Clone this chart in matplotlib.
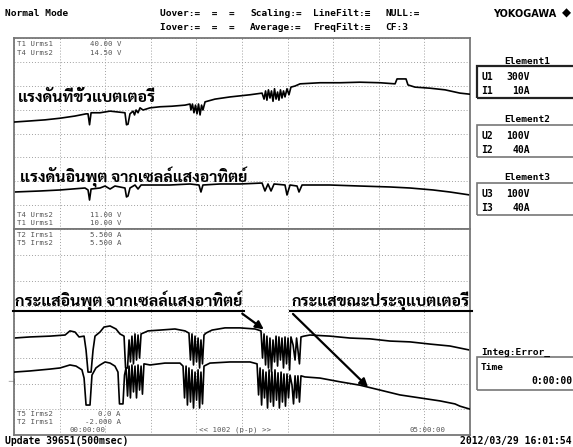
import matplotlib
matplotlib.use("Agg")
import numpy as np
import matplotlib.pyplot as plt
from matplotlib.patches import Rectangle, FancyArrowPatch
from matplotlib.lines import Line2D

W, H = 573, 447
THAI = ['Sarabun', 'Kinnari', 'Loma', 'DejaVu Sans']
MONO = 'DejaVu Sans Mono'

# time axis: minutes from 00:00:00 to 05:00:00
T_SPAN = (0, 300)

# channel scales (bottom, top)
U1_RANGE = (10.0, 40.0)    # T1 Urms1
U2_RANGE = (11.0, 14.5)    # T4 Urms2
I1_RANGE = (-2.0, 5.5)     # T2 Irms1
I2_RANGE = (0.0, 5.5)      # T5 Irms2

# battery terminal voltage (T4 Urms2), V
bat_t = [0, 10.5, 20.4, 30.3, 40.1, 47.4, 48.7, 49.7, 50.7, 56.6, 63.2, 69.7,
         73.0, 74.0, 75.0, 76.3, 78.3, 79.3, 80.3, 81.6, 82.9, 84.9, 89.5, 96.1,
         103.9, 112.5, 115.8, 116.4, 117.4, 118.4, 119.4, 120.4, 121.4, 122.4,
         123.4, 124.3, 125.7, 132.2, 142.1, 155.3, 163.2, 164.5, 165.5, 166.4,
         167.4, 168.4, 169.4, 170.4, 171.4, 172.4, 173.4, 174.3, 175.3, 176.3,
         177.3, 178.3, 179.6, 180.9, 182.2, 184.9, 188.2, 201.3, 214.5, 227.6,
         240.8, 250.7, 252.0, 257.9, 259.2, 263.8, 273.7, 283.6, 293.4, 300]
bat_v = [12.96, 12.98, 13.00, 13.03, 13.07, 13.11, 13.11, 12.91, 13.13, 13.13,
         13.16, 13.14, 13.13, 12.91, 12.92, 13.11, 13.16, 13.09, 13.18, 13.13,
         13.22, 13.18, 13.22, 13.24, 13.25, 13.27, 13.29, 13.18, 13.29, 13.13,
         13.27, 13.11, 13.29, 13.09, 13.27, 13.18, 13.33, 13.38, 13.42, 13.46,
         13.49, 13.38, 13.53, 13.36, 13.55, 13.40, 13.53, 13.34, 13.57, 13.38,
         13.51, 13.36, 13.55, 13.40, 13.53, 13.42, 13.57, 13.46, 13.60, 13.62,
         13.66, 13.68, 13.68, 13.69, 13.68, 13.66, 13.75, 13.75, 13.64, 13.60,
         13.58, 13.55, 13.49, 13.47]

# solar cell input voltage (T1 Urms1), V
pv_t = [0, 17.1, 30.3, 46.7, 48.7, 49.7, 50.7, 56.6, 59.9, 63.2, 66.4, 69.7,
        73.0, 74.0, 75.0, 76.3, 79.6, 81.6, 83.6, 89.5, 102.6, 115.8, 121.7,
        123.0, 124.3, 135.5, 148.7, 163.2, 165.1, 167.1, 169.1, 171.1, 178.3,
        179.6, 181.6, 186.2, 187.5, 189.5, 207.9, 227.6, 247.4, 260.5, 275.7,
        286.8, 300]
pv_v = [15.81, 15.97, 16.13, 16.44, 16.13, 14.55, 16.28, 16.44, 16.75, 16.28,
        16.75, 16.60, 16.44, 15.03, 15.18, 16.44, 16.91, 16.28, 16.91, 16.91,
        16.91, 17.07, 16.91, 15.81, 16.91, 17.07, 17.07, 17.22, 15.97, 17.07,
        15.97, 17.07, 16.91, 15.34, 16.91, 16.75, 15.81, 16.91, 16.91, 16.75,
        16.60, 16.44, 16.13, 15.81, 15.34]

# solar cell input current (T2 Irms1), A
pvi_t = [0, 10.5, 23.7, 33.6, 36.8, 40.1, 42.8, 46.1, 47.4, 48.7, 50.7, 52.0,
         53.3, 56.6, 59.2, 63.2, 67.1, 69.7, 72.4, 73.4, 74.7, 75.7, 76.6, 77.6,
         78.6, 79.6, 80.6, 81.6, 82.6, 83.6, 84.9, 88.2, 96.1, 105.9, 112.5,
         115.1, 116.1, 117.1, 118.1, 119.1, 120.1, 121.1, 122.1, 123.0, 124.0,
         125.0, 126.3, 130.3, 138.8, 148.7, 158.6, 162.5, 163.5, 164.5, 165.5,
         166.4, 167.4, 168.4, 169.4, 170.4, 171.4, 172.4, 173.4, 174.3, 175.3,
         176.3, 177.3, 178.3, 179.3, 180.3, 181.3, 182.2, 183.6, 184.9, 185.9,
         186.8, 187.8, 188.8, 190.8, 194.7, 207.9, 221.1, 234.2, 247.4, 260.5,
         273.7, 286.8, 300]
pvi_a = [1.53, 1.57, 1.60, 1.64, 1.79, 1.75, 1.57, 1.60, 1.09, 0.29, 0.29, 1.09,
         1.60, 1.75, 1.93, 1.97, 1.86, 1.68, 1.60, 0.44, 0.44, 1.46, 0.66, 1.60,
         0.59, 1.68, 0.73, 1.64, 0.80, 1.68, 1.71, 1.79, 1.82, 1.86, 1.79, 1.71,
         0.73, 1.68, 0.55, 1.60, 0.66, 1.53, 0.44, 1.46, 0.59, 1.64, 1.71, 1.82,
         1.90, 1.90, 1.86, 1.79, 0.80, 1.68, 0.55, 1.60, 0.44, 1.53, 0.29, 1.46,
         0.66, 1.60, 0.51, 1.57, 0.73, 1.53, 0.44, 1.57, 0.59, 1.53, 0.37, 1.57,
         1.28, 0.73, 1.53, 1.09, 0.59, 1.57, 1.60, 1.64, 1.60, 1.53, 1.50, 1.42,
         1.39, 1.31, 1.24, 1.09]

# battery charging current (T5 Irms2), A
chg_t = [0, 10.5, 23.7, 30.3, 36.8, 40.8, 44.7, 46.1, 47.4, 50.0, 51.3, 53.9,
         56.6, 59.9, 63.2, 66.4, 68.4, 69.4, 71.7, 72.7, 73.7, 74.7, 75.7, 76.6,
         77.6, 78.6, 79.6, 80.6, 81.6, 82.6, 83.6, 84.5, 85.5, 89.5, 99.3, 109.2,
         111.2, 112.2, 113.2, 114.1, 115.1, 116.1, 117.1, 118.1, 119.1, 120.1,
         121.1, 122.1, 123.0, 124.0, 125.0, 128.9, 142.1, 155.3, 159.9, 160.9,
         161.9, 162.9, 163.8, 164.8, 165.8, 166.8, 167.8, 168.8, 169.7, 170.7,
         171.7, 172.7, 173.7, 174.6, 175.7, 176.6, 177.6, 178.6, 179.6, 180.6,
         181.6, 182.9, 183.9, 184.9, 185.9, 186.8, 187.8, 188.8, 191.4, 201.3,
         214.5, 227.6, 240.8, 253.9, 267.1, 280.3, 290.1, 293.4, 300]
chg_a = [1.68, 1.71, 1.76, 1.79, 1.87, 1.84, 1.74, 1.52, 0.80, 0.80, 1.60, 1.79,
         1.87, 1.95, 1.92, 1.84, 1.68, 0.83, 0.83, 1.60, 1.79, 1.04, 1.84, 0.99,
         1.87, 1.15, 1.84, 0.99, 1.87, 1.20, 1.84, 1.09, 1.90, 1.87, 1.92, 1.92,
         1.84, 0.99, 1.84, 0.80, 1.79, 0.88, 1.74, 0.72, 1.68, 0.93, 1.74, 0.72,
         1.68, 0.83, 1.84, 1.92, 1.95, 1.95, 1.90, 1.07, 1.79, 0.80, 1.74, 0.99,
         1.68, 0.72, 1.74, 0.88, 1.68, 0.77, 1.74, 0.93, 1.66, 0.72, 1.68, 0.88,
         1.63, 0.77, 1.63, 0.99, 1.60, 1.33, 0.83, 1.58, 0.99, 1.58, 0.88, 1.58,
         1.55, 1.52, 1.42, 1.33, 1.20, 1.07, 0.99, 0.91, 0.83, 0.77, 0.69]

HEADER = [("Normal Mode", None, 5), ("Uover:=  =  =", "Iover:=  =  =", 160),
          ("Scaling:=", "Average:=", 250), ("LineFilt:\u2261", "FreqFilt:\u2261", 313),
          ("NULL:=", "CF:3", 385)]
ELEMENTS = [("Element1", "U1", "300V", "I1", "10A"),
            ("Element2", "U2", "100V", "I2", "40A"),
            ("Element3", "U3", "100V", "I3", "40A")]
CHANNELS = [(44, "T1 Urms1", "40.00 V"), (53, "T4 Urms2", "14.50 V"),
            (215, "T4 Urms2", "11.00 V"), (223, "T1 Urms1", "10.00 V"),
            (235, "T2 Irms1", "5.500 A"), (243, "T5 Irms2", "5.500 A"),
            (414, "T5 Irms2", "0.0 A"), (422, "T2 Irms1", "-2.000 A")]


def px(x, y):
    # screen pixel (from top-left) -> figure fraction
    return x / W, 1 - y / H


def put(fig, x, y, s, **kw):
    kw.setdefault('family', MONO)
    kw.setdefault('va', 'center')
    return fig.text(*px(x, y), s, **kw)


def make_panel(fig, top, bottom, yr1, yr2, nrows):
    l, b = px(14, bottom)
    r, t = px(470, top)
    ax = fig.add_axes([l, b, r - l, t - b])
    ax.set_xlim(*T_SPAN)
    ax.set_ylim(*yr1)
    ax.set_xticks(np.linspace(T_SPAN[0], T_SPAN[1], 11))
    ax.set_yticks(np.linspace(yr1[0], yr1[1], nrows + 1))
    ax.tick_params(length=0, labelbottom=False, labelleft=False)
    ax.grid(True, color='#a0a0a0', lw=0.7, ls=(0, (1, 2)))
    for s in ax.spines.values():
        s.set_color('#777777')
        s.set_linewidth(1.3)
    ax2 = ax.twinx()
    ax2.set_ylim(*yr2)
    ax2.set_yticks([])
    for s in ax2.spines.values():
        s.set_visible(False)
    return ax, ax2


def draw_labels(fig):
    for a, b, x in HEADER:
        put(fig, x, 14, a, fontsize=6.8, weight='bold')
        if b:
            put(fig, x, 28, b, fontsize=6.8, weight='bold')
    put(fig, 556, 14, "YOKOGAWA", fontsize=7, weight='bold', ha='right',
        family='DejaVu Sans')
    put(fig, 571, 13, "\u25c6", fontsize=8.5, ha='right', family='DejaVu Sans')

    for y, name, val in CHANNELS:
        put(fig, 17, y, name, fontsize=5.3, color='#555555')
        put(fig, 121, y, val, fontsize=5.3, color='#555555', ha='right')

    put(fig, 88, 430, "00:00:00", fontsize=5.3, color='#555555', ha='center')
    put(fig, 428, 430, "05:00:00", fontsize=5.3, color='#555555', ha='center')
    put(fig, 235, 430, "<< 1002 (p-p) >>", fontsize=5.3, color='#555555', ha='center')
    put(fig, 7, 382, "\u22a3", fontsize=6, color='#555555', family='DejaVu Sans')

    put(fig, 5, 441, "Update 39651(500msec)", fontsize=7, weight='bold')
    put(fig, 572, 441, "2012/03/29 16:01:54", fontsize=7, weight='bold', ha='right')

    # range boxes on the right
    tops = [66, 125, 183]
    for (title, u, uv, i, iv), y0 in zip(ELEMENTS, tops):
        dark = title == "Element1"
        fig.add_artist(Rectangle(px(477, y0 + 32), 110 / W, 32 / H,
                                 fill=False, lw=1.6 if dark else 1.2,
                                 ec='#222222' if dark else '#777777'))
        put(fig, 527, y0 - 5, title, fontsize=6.8, weight='bold', ha='center')
        put(fig, 481, y0 + 11, u, fontsize=7, weight='bold')
        put(fig, 530, y0 + 11, uv, fontsize=7, weight='bold', ha='right')
        put(fig, 481, y0 + 25, i, fontsize=7, weight='bold')
        put(fig, 530, y0 + 25, iv, fontsize=7, weight='bold', ha='right')

    fig.add_artist(Rectangle(px(477, 390), 110 / W, 33 / H, fill=False,
                             lw=1.2, ec='#777777'))
    put(fig, 481, 352, "Integ:Error_", fontsize=6.8, weight='bold')
    put(fig, 481, 367, "Time", fontsize=6.8, weight='bold')
    put(fig, 572, 381, "0:00:00", fontsize=7, weight='bold', ha='right')


def underlined(fig, x, y, s):
    t = put(fig, x, y, s, fontsize=11.5, weight='bold', family=THAI)
    fig.canvas.draw()
    bb = t.get_window_extent()
    fw = fig.dpi * fig.get_figwidth()
    yy = px(0, y + 9)[1]
    fig.add_artist(Line2D([bb.x0 / fw - 0.003, bb.x1 / fw + 0.003], [yy, yy],
                          color='k', lw=1.5))


def main():
    fig = plt.figure(figsize=(W / 100, H / 100), dpi=100)

    ax_u1, ax_u2 = make_panel(fig, 38, 229, U1_RANGE, U2_RANGE, 8)
    ax_i1, ax_i2 = make_panel(fig, 229, 435, I1_RANGE, I2_RANGE, 8)

    ax_u2.plot(bat_t, bat_v, color='k', lw=1.2)
    ax_u1.plot(pv_t, pv_v, color='k', lw=1.2)
    ax_i1.plot(pvi_t, pvi_a, color='k', lw=1.2)
    ax_i2.plot(chg_t, chg_a, color='k', lw=1.2)

    draw_labels(fig)

    put(fig, 18, 97, "แรงดันที่ขั้วแบตเตอรี่", fontsize=11.5, weight='bold', family=THAI)
    put(fig, 20, 177, "แรงดันอินพุต จากเซลล์แสงอาทิตย์", fontsize=11.5, weight='bold', family=THAI)
    underlined(fig, 15, 302, "กระแสอินพุต จากเซลล์แสงอาทิตย์")
    underlined(fig, 292, 302, "กระแสขณะประจุแบตเตอรี่")

    arrow = dict(arrowstyle='-|>', color='k', lw=1.6, mutation_scale=12)
    fig.add_artist(FancyArrowPatch(px(240, 312), px(266, 331),
                                   transform=fig.transFigure, **arrow))
    fig.add_artist(FancyArrowPatch(px(291, 312), px(370, 389),
                                   transform=fig.transFigure, **arrow))

    fig.savefig("out.png", dpi=100)


if __name__ == '__main__':
    main()
